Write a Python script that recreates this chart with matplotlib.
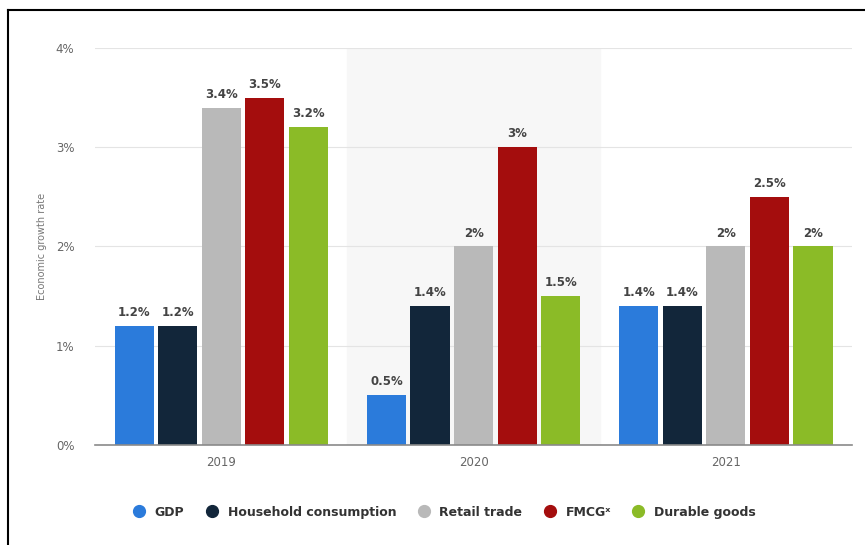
import matplotlib.pyplot as plt
from matplotlib.lines import Line2D
import numpy as np

years = ["2019", "2020", "2021"]
series = ["GDP", "Household consumption", "Retail trade", "FMCG*", "Durable goods"]
gdp = [1.2, 0.5, 1.4]
household = [1.2, 1.4, 1.4]
retail = [3.4, 2.0, 2.0]
fmcg = [3.5, 3.0, 2.5]
durable = [3.2, 1.5, 2.0]
colors = ["#2b7bdb", "#12263a", "#b9b9b9", "#a40d0d", "#8bbb27"]

values = [gdp, household, retail, fmcg, durable]
legend_labels = ["GDP", "Household consumption", "Retail trade", "FMCG\u02e3", "Durable goods"]

fig = plt.figure(figsize=(8.65, 5.45), dpi=100)
ax = fig.add_axes([0.110, 0.1835, 0.875, 0.7285])

x = np.arange(len(years))
step = 0.1726
width = 0.155

# shaded band behind the middle year
ax.axvspan(0.5, 1.5, color="#f7f7f7", zorder=0)

for i, (vals, col) in enumerate(zip(values, colors)):
    pos = x + (i - 2) * step
    ax.bar(pos, vals, width=width, color=col, zorder=3, label=legend_labels[i])
    for px, v in zip(pos, vals):
        ax.text(px, v + 0.07, f"{v:g}%", ha="center", va="bottom",
                fontsize=8.5, fontweight="bold", color="#444444", zorder=4)

ax.set_xlim(-0.5, 2.5)
ax.set_ylim(0, 4)
ax.set_yticks([0, 1, 2, 3, 4])
ax.set_yticklabels(["0%", "1%", "2%", "3%", "4%"])
ax.set_xticks(x)
ax.set_xticklabels(years)
ax.tick_params(length=0, colors="#666666", labelsize=8.5)
ax.tick_params(axis="y", pad=15)
ax.tick_params(axis="x", pad=8)
ax.grid(axis="y", color="#e4e4e4", linewidth=0.8, zorder=1)
for s in ["top", "right", "left"]:
    ax.spines[s].set_visible(False)
ax.spines["bottom"].set_color("#8a8a8a")
ax.spines["bottom"].set_linewidth(1.2)
ax.spines["bottom"].set_zorder(5)
ax.set_ylabel("Economic growth rate", fontsize=7, color="#777777", labelpad=6)

handles = [Line2D([0], [0], marker="o", linestyle="", markersize=8.5,
                  markerfacecolor=c, markeredgecolor=c) for c in colors]
leg = fig.legend(handles, legend_labels, loc="center", bbox_to_anchor=(0.51, 0.06),
                 ncol=5, frameon=False, handletextpad=0.25, columnspacing=1.2,
                 prop={"size": 9, "weight": "bold"})
for t in leg.get_texts():
    t.set_color("#333333")

# black frame lines on left and top
fig.add_artist(Line2D([8 / 865, 8 / 865], [0, 1 - 10 / 545], color="black", linewidth=1.5,
                      transform=fig.transFigure))
fig.add_artist(Line2D([8 / 865, 1], [1 - 10 / 545, 1 - 10 / 545], color="black", linewidth=1.5,
                      transform=fig.transFigure))

fig.savefig("out.png", dpi=100)
